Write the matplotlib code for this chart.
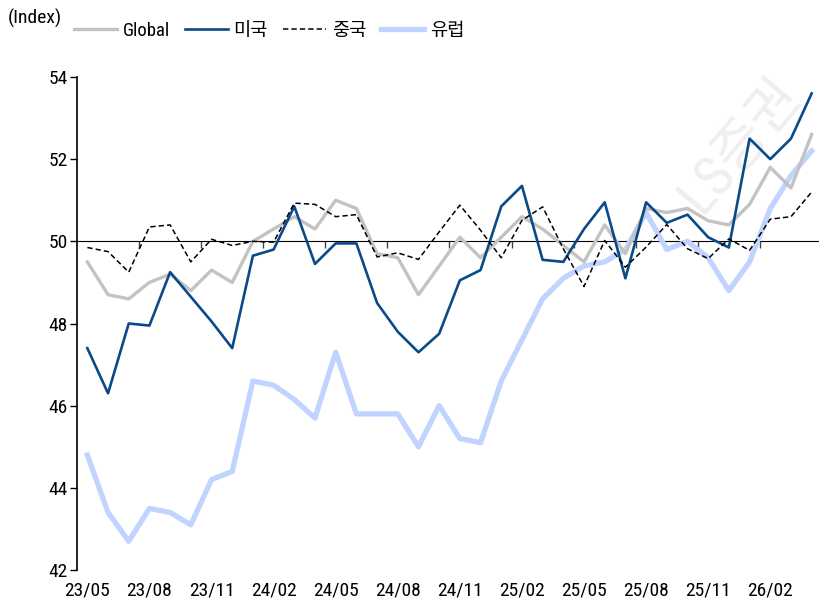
import matplotlib.pyplot as plt
import matplotlib.font_manager as fm
import pandas as pd

# pick a narrow latin face if one is installed, Korean falls back to Noto CJK
installed = {f.name for f in fm.fontManager.ttflist}
narrow = [n for n in ["Liberation Sans Narrow", "Roboto Condensed", "Open Sans Condensed",
                      "Arial Narrow"] if n in installed]
if narrow:
    plt.rcParams['font.family'] = [narrow[0], 'Noto Sans CJK KR', 'DejaVu Sans']
else:
    if any(f.name == "DejaVu Sans" and f.stretch == "condensed" for f in fm.fontManager.ttflist):
        plt.rcParams['font.stretch'] = "condensed"
    plt.rcParams['font.family'] = ['DejaVu Sans', 'Noto Sans CJK KR']

months = pd.period_range("2023-05", "2026-04", freq="M").strftime("%y/%m").tolist()

global_pmi = [49.5, 48.7, 48.6, 49.0, 49.2, 48.8, 49.3, 49.0, 50.0, 50.3,
              50.6, 50.3, 51.0, 50.8, 49.7, 49.6, 48.7, 49.4, 50.1, 49.6,
              50.1, 50.6, 50.3, 49.9, 49.5, 50.4, 49.7, 50.8, 50.7, 50.8,
              50.5, 50.4, 50.9, 51.8, 51.3, 52.6]
us_pmi = [47.4, 46.3, 48.0, 47.95, 49.25, 48.65, 48.05, 47.4, 49.65, 49.8,
          50.85, 49.45, 49.95, 49.95, 48.5, 47.8, 47.3, 47.75, 49.05, 49.3,
          50.85, 51.35, 49.55, 49.5, 50.3, 50.95, 49.1, 50.95, 50.45, 50.65,
          50.1, 49.85, 52.5, 52.0, 52.5, 53.6]
china_pmi = [49.85, 49.75, 49.25, 50.35, 50.4, 49.5, 50.05, 49.9, 50.0, 49.98,
             50.93, 50.9, 50.6, 50.65, 49.62, 49.72, 49.56, 50.23, 50.88, 50.27,
             49.6, 50.51, 50.84, 49.82, 48.9, 50.02, 49.37, 49.86, 50.41, 49.82,
             49.58, 50.06, 49.78, 50.54, 50.6, 51.2]
europe_pmi = [44.8, 43.4, 42.7, 43.5, 43.4, 43.1, 44.2, 44.4, 46.6, 46.5,
              46.15, 45.7, 47.3, 45.8, 45.8, 45.8, 45.0, 46.0, 45.2, 45.1,
              46.6, 47.6, 48.6, 49.1, 49.4, 49.5, 49.8, 50.7, 49.8, 50.0,
              49.6, 48.8, 49.5, 50.8, 51.6, 52.2]

label_months = ["23/05", "23/08", "23/11", "24/02", "24/05", "24/08",
                "24/11", "25/02", "25/05", "25/08", "25/11", "26/02"]

x = list(range(len(months)))

fig = plt.figure(figsize=(8.2, 6.05), dpi=100)
ax = fig.add_axes([77/820, 1 - 570/605, 745/820, 493/605])

ax.plot(x, global_pmi, color="#c3c3c3", lw=2.4, label="Global", zorder=3)
ax.plot(x, us_pmi, color="#0b4a88", lw=1.9, label="미국", zorder=4)
ax.plot(x, china_pmi, color="black", lw=1.1, ls=(0, (3.5, 2)), label="중국", zorder=5)
ax.plot(x, europe_pmi, color="#c0d4ff", lw=3.8, label="유럽", zorder=2)

ax.set_xlim(-0.5, len(months) - 0.5)
ax.set_ylim(42, 54)
ax.set_yticks([42, 44, 46, 48, 50, 52, 54])
ax.tick_params(axis="y", direction="out", length=5, width=1, labelsize=14, pad=1.5)

ax.set_xticks([months.index(m) for m in label_months], label_months)
ax.tick_params(axis="x", length=0, labelsize=14, pad=8)

for s in ["top", "right", "bottom"]:
    ax.spines[s].set_visible(False)
ax.spines["left"].set_linewidth(1.2)

# category axis drawn through 50
sec = ax.secondary_xaxis((50 - 42) / 12)
sec.set_xticks([i - 0.5 for i in x if i % 3 == 0 and i > 0])
sec.set_xticklabels([])
sec.tick_params(direction="in", length=5, width=1, color="#444444")
sec.spines["bottom"].set_color("#444444")
sec.spines["bottom"].set_linewidth(1)

ax.text(0.89, 0.862, "LS증권", transform=ax.transAxes, rotation=50,
        fontsize=40, color="#efefef", ha="center", va="center", zorder=0)

fig.text(8/820, 1 - 18/605, "(Index)", fontsize=14, ha="left", va="center")
fig.legend(loc="center", bbox_to_anchor=(269/820, 1 - 31/605), ncol=4, frameon=False,
           fontsize=13.5, handlelength=2.3, handletextpad=0.3, columnspacing=0.8,
           borderaxespad=0)

fig.savefig("out.png", dpi=100)
